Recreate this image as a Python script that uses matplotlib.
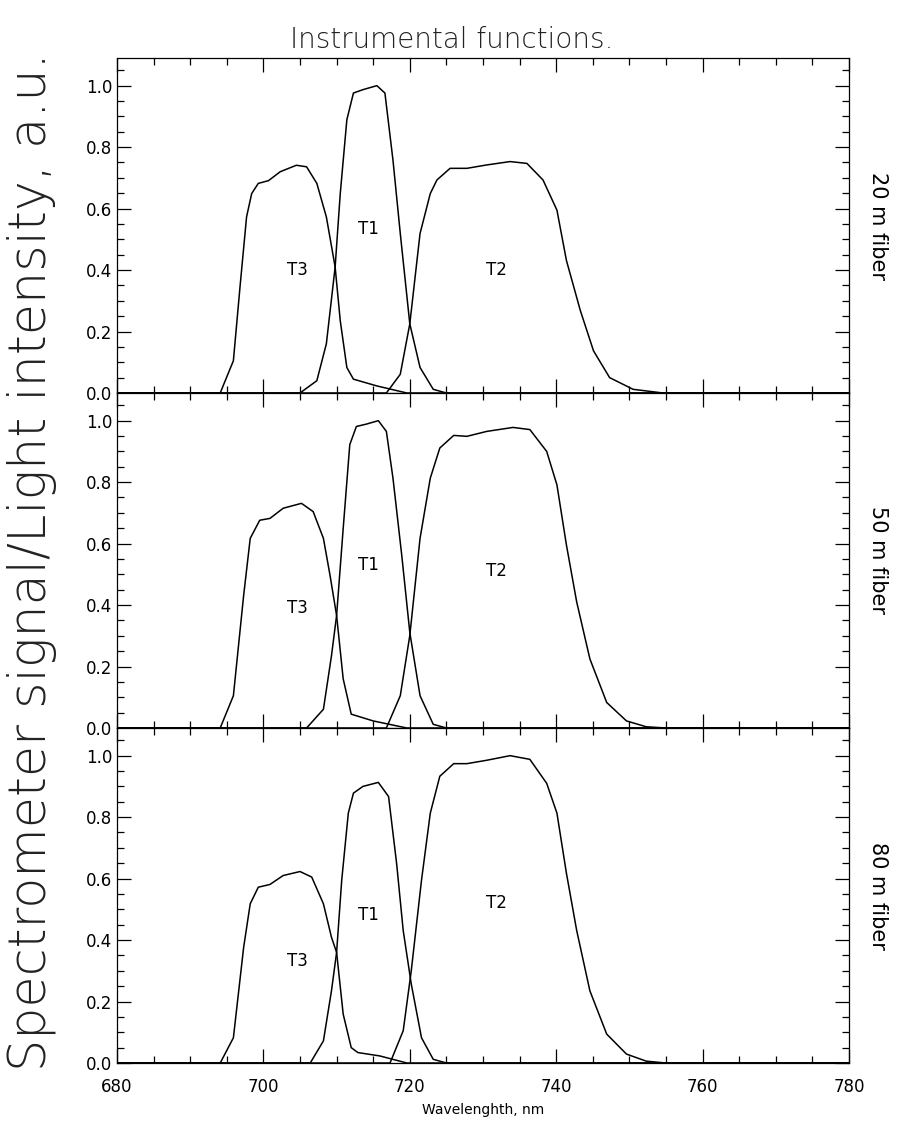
import matplotlib
matplotlib.use('Agg')
import matplotlib.pyplot as plt
from matplotlib.ticker import MultipleLocator

# wavelength (nm) / signal
t3_w = [680, 694.1, 695.9, 696.8, 697.7, 698.4, 699.3, 700.7, 702.3, 704.5, 705.9, 707.3, 708.6, 709.8, 710.5, 711.4, 712.3, 715.5, 719.6, 780]
t3_20 = [0, 0, 0.105, 0.344, 0.573, 0.649, 0.682, 0.691, 0.72, 0.741, 0.736, 0.682, 0.573, 0.41, 0.235, 0.083, 0.045, 0.023, 0, 0]
t1_w = [680, 705.0, 707.3, 708.6, 709.8, 710.5, 711.4, 712.3, 713.6, 715.5, 716.6, 717.7, 718.7, 720.0, 721.4, 723.2, 725.0, 780]
t1_20 = [0, 0, 0.04, 0.16, 0.41, 0.649, 0.889, 0.976, 0.987, 1.0, 0.976, 0.758, 0.519, 0.225, 0.083, 0.012, 0, 0]
t2_w = [680, 716.8, 718.7, 720.0, 721.4, 722.8, 723.7, 725.5, 727.8, 730.5, 733.7, 736.0, 738.2, 740.1, 741.4, 743.3, 745.1, 747.3, 750.5, 754.6, 780]
t2_20 = [0, 0, 0.061, 0.225, 0.519, 0.649, 0.693, 0.731, 0.731, 0.742, 0.753, 0.747, 0.693, 0.595, 0.431, 0.268, 0.137, 0.05, 0.012, 0, 0]

t3_w50 = [680, 694.1, 695.9, 697.3, 698.2, 699.5, 700.9, 702.7, 705.2, 706.8, 708.2, 709.1, 710.0, 710.9, 712.0, 715.0, 719.6, 780]
t3_50 = [0, 0, 0.105, 0.431, 0.617, 0.676, 0.682, 0.715, 0.731, 0.704, 0.617, 0.497, 0.366, 0.16, 0.045, 0.023, 0, 0]
t1_w50 = [680, 705.9, 708.2, 709.3, 710.0, 710.9, 711.8, 712.7, 714.1, 715.7, 716.8, 717.7, 718.9, 720.0, 721.4, 723.2, 725.0, 780]
t1_50 = [0, 0, 0.061, 0.235, 0.366, 0.649, 0.922, 0.981, 0.989, 1.0, 0.965, 0.813, 0.562, 0.311, 0.105, 0.012, 0, 0]
t2_w50 = [680, 716.8, 718.7, 720.0, 721.4, 722.8, 724.1, 726.0, 727.8, 730.5, 734.1, 736.4, 738.7, 740.1, 741.4, 742.8, 744.6, 746.9, 749.6, 752.3, 755.0, 780]
t2_50 = [0, 0, 0.105, 0.301, 0.617, 0.813, 0.911, 0.952, 0.949, 0.965, 0.978, 0.971, 0.9, 0.791, 0.595, 0.41, 0.225, 0.083, 0.023, 0.004, 0, 0]

t3_w80 = [680, 694.1, 695.9, 697.3, 698.2, 699.3, 700.9, 702.7, 705.0, 706.6, 708.2, 709.3, 710.0, 710.9, 712.0, 712.9, 715.9, 719.6, 780]
t3_80 = [0, 0, 0.082, 0.376, 0.518, 0.572, 0.581, 0.61, 0.623, 0.605, 0.518, 0.409, 0.36, 0.159, 0.05, 0.034, 0.023, 0, 0]
t1_w80 = [680, 706.4, 708.2, 709.3, 710.0, 710.7, 711.6, 712.3, 713.6, 715.7, 717.1, 718.2, 719.1, 720.2, 721.6, 723.2, 725.0, 780]
t1_80 = [0, 0, 0.072, 0.235, 0.36, 0.595, 0.813, 0.878, 0.9, 0.913, 0.867, 0.649, 0.431, 0.257, 0.082, 0.012, 0, 0]
t2_w80 = [680, 717.3, 719.1, 720.2, 721.6, 722.8, 724.1, 726.0, 727.8, 730.5, 733.7, 736.4, 738.7, 740.1, 741.4, 742.8, 744.6, 746.9, 749.6, 752.3, 755.0, 780]
t2_80 = [0, 0, 0.105, 0.3, 0.595, 0.813, 0.933, 0.974, 0.974, 0.985, 1.0, 0.988, 0.91, 0.813, 0.617, 0.431, 0.235, 0.094, 0.029, 0.006, 0, 0]

fibers = ['20 m fiber', '50 m fiber', '80 m fiber']
curves = [
    [(t3_w, t3_20), (t1_w, t1_20), (t2_w, t2_20)],
    [(t3_w50, t3_50), (t1_w50, t1_50), (t2_w50, t2_50)],
    [(t3_w80, t3_80), (t1_w80, t1_80), (t2_w80, t2_80)],
]
# label anchor (wavelength, value) for T3, T1, T2 in each panel
label_pos = [
    [(704.6, 0.40), (714.3, 0.535), (731.9, 0.40)],
    [(704.6, 0.39), (714.3, 0.53), (731.8, 0.51)],
    [(704.6, 0.333), (714.3, 0.48), (731.9, 0.52)],
]
names = ['T3', 'T1', 'T2']

fig = plt.figure(figsize=(9.13, 11.27), dpi=100)
left, right = 117 / 913, 849 / 913
tops = [58, 393, 728]
h = 335

for i in range(3):
    ax = fig.add_axes([left, 1 - (tops[i] + h) / 1127, right - left, h / 1127])
    for w, v in curves[i]:
        ax.plot(w, v, color='black', lw=1.1)
    for name, (x, y) in zip(names, label_pos[i]):
        ax.text(x, y, name, ha='center', va='center', fontsize=12)
    ax.set_xlim(680, 780)
    ax.set_ylim(0, 1.09)
    ax.set_yticks([0, 0.2, 0.4, 0.6, 0.8, 1.0])
    ax.set_yticklabels(['0.0', '0.2', '0.4', '0.6', '0.8', '1.0'])
    ax.yaxis.set_minor_locator(MultipleLocator(0.05))
    ax.xaxis.set_major_locator(MultipleLocator(20))
    ax.xaxis.set_minor_locator(MultipleLocator(5))
    ax.tick_params(which='both', direction='in', top=True, right=True, labelsize=12, width=0.9)
    ax.tick_params(which='major', length=10)
    ax.tick_params(which='minor', length=5)
    ax.tick_params(axis='x', pad=11)
    for s in ax.spines.values():
        s.set_linewidth(0.9)
    if i < 2:
        ax.tick_params(labelbottom=False)
    ax.text(1.04, 0.5, fibers[i], transform=ax.transAxes, rotation=-90,
            ha='center', va='center', fontsize=15)

fig.text(452 / 913, 1 - 40 / 1127, 'Instrumental functions.', ha='center',
         va='center', fontsize=20, color='#222222',
         family=['DejaVu Sans'], fontweight='light')
fig.text(0.5 * (left + right), 1 - 1110 / 1127, 'Wavelenghth, nm', ha='center',
         va='center', fontsize=10)
fig.text(32 / 913, 1 - 562 / 1127, 'Spectrometer signal/Light intensity, a.u.',
         rotation=90, ha='center', va='center', fontsize=36.5, color='#222222',
         family=['DejaVu Sans'], fontweight='light')

fig.savefig('out.png', dpi=100)
